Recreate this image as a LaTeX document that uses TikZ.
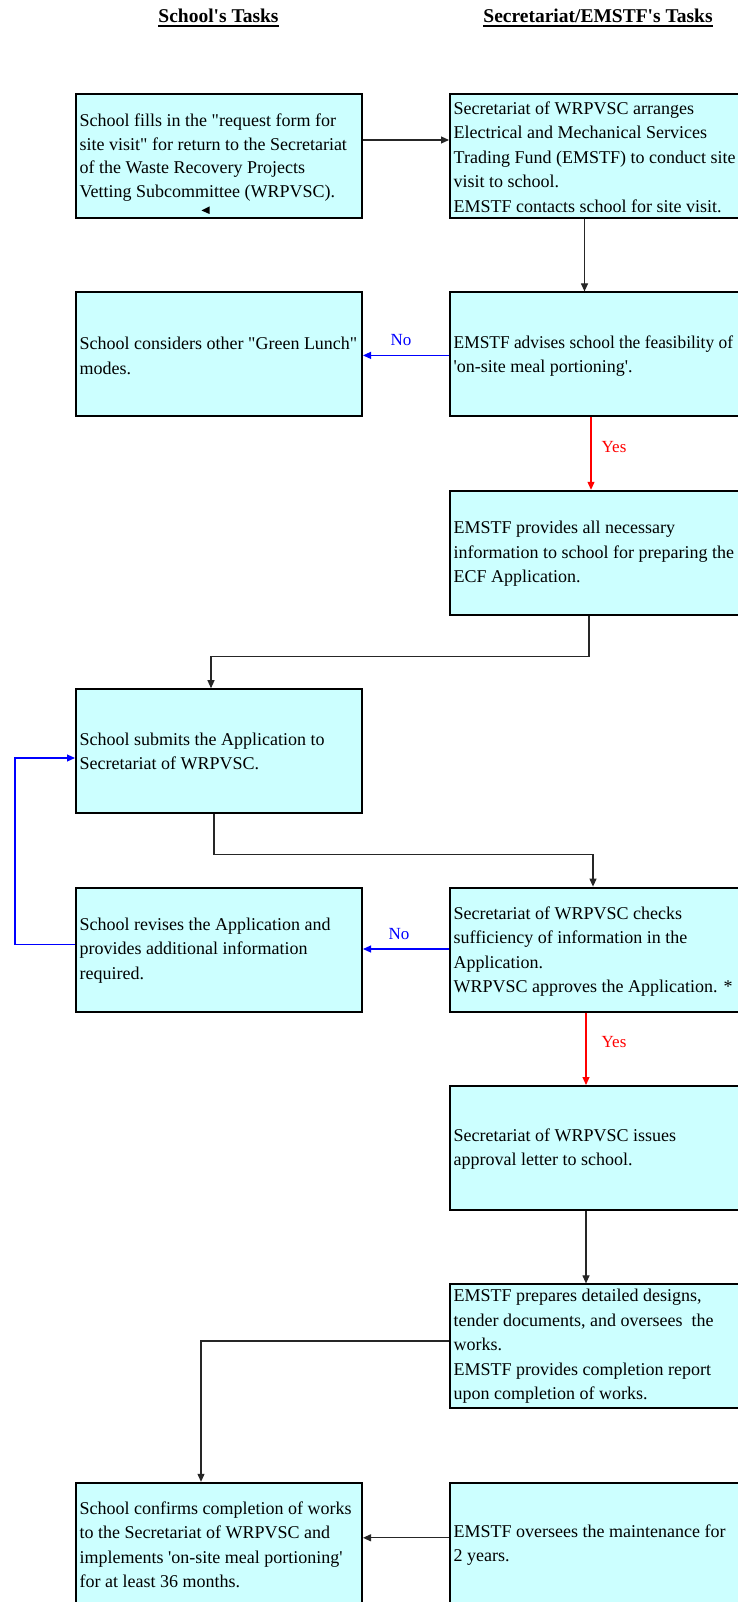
\documentclass[tikz,border=0pt]{standalone}
\usepackage{fontspec}
\usepackage{graphicx}
\setmainfont{Liberation Serif}
\usetikzlibrary{arrows.meta,calc}
\newcommand{\sq}{\textquotesingle}
\newcommand{\dq}{\XeTeXglyph\XeTeXcharglyph"22\relax}
\definecolor{boxfill}{HTML}{CCFFFF}
\definecolor{noblue}{HTML}{0000FF}
\definecolor{yesred}{HTML}{FF0000}
\tikzset{
  lbox/.style={draw=black, line width=2pt, fill=boxfill, minimum width=286pt, minimum height=124pt, inner sep=0pt, anchor=north west},
  rbox/.style={lbox, minimum width=296pt},
  txt/.style={anchor=west, align=left, inner sep=0pt, font={\fontsize{18}{24.4}\selectfont}},
  hdr/.style={anchor=base, inner sep=0pt, font={\fontsize{19.5}{22}\selectfont\bfseries}},
  conn/.style={draw=black!85, line width=1.1pt, -{Triangle[length=8pt,width=7pt]}},
  noarr/.style={draw=noblue, line width=1.1pt, -{Triangle[length=8pt,width=7pt]}},
  yesarr/.style={draw=yesred, line width=1.1pt, -{Triangle[length=8pt,width=7pt]}},
  nolab/.style={text=noblue, inner sep=0pt, font={\fontsize{17}{20}\selectfont}},
  yeslab/.style={text=yesred, inner sep=0pt, font={\fontsize{17}{20}\selectfont}},
}
\begin{document}
\begin{tikzpicture}[x=1pt,y=-1pt]
\useasboundingbox (0,0) rectangle (738,1602);
\clip (0,0) rectangle (738,1602);
\fill[white] (0,0) rectangle (738,1602);

% headers
\node[hdr] (hL) at (218.5,22.7) {School\sq s Tasks};
\node[hdr] (hR) at (598,22.7) {Secretariat/EMSTF\sq s Tasks};
\draw[line width=2pt] ($(hL.base west)+(0,3.3)$) -- ($(hL.base east)+(0,3.3)$);
\draw[line width=2pt] ($(hR.base west)+(0,3.3)$) -- ($(hR.base east)+(0,3.3)$);

% boxes
\node[lbox] (L1) at (75,93) {};
\node[rbox] (R1) at (449,93) {};
\node[lbox] (L2) at (75,291.4) {};
\node[rbox] (R2) at (449,291.4) {};
\node[rbox] (R3) at (449,489.8) {};
\node[lbox] (L4) at (75,688.2) {};
\node[lbox] (L5) at (75,886.6) {};
\node[rbox] (R5) at (449,886.6) {};
\node[rbox] (R6) at (449,1085) {};
\node[rbox] (R7) at (449,1283.4) {};
\node[lbox] (L8) at (75,1481.8) {};
\node[rbox] (R8) at (449,1481.8) {};

% texts
\node[txt, font={\fontsize{18}{23.6}\selectfont}] (tL1) at ([xshift=4.5pt,yshift=-1.7pt]L1.west) {School fills in the \dq request form for\\site visit\dq{} for return to the Secretariat\\of the Waste Recovery Projects\\Vetting Subcommittee (WRPVSC).};
\node[txt] (tR1) at ([xshift=4.5pt,yshift=-1pt]R1.west) {Secretariat of WRPVSC arranges\\Electrical and Mechanical Services\\Trading Fund (EMSTF) to conduct site\\visit to school.\\EMSTF contacts school for site visit.};
\node[txt] (tL2) at ([xshift=4.5pt,yshift=-1.5pt]L2.west) {School considers other \dq Green Lunch\dq\\modes.};
\node[txt] (tR2) at ([xshift=4.5pt,yshift=-1.5pt]R2.west) {\scalebox{0.965}[1]{EMSTF advises school the feasibility of}\\\sq on-site meal portioning\sq .};
\node[txt] (tR3) at ([xshift=4.5pt,yshift=-1pt]R3.west) {EMSTF provides all necessary\\information to school for preparing the\\ECF Application.};
\node[txt] (tL4) at ([xshift=4.5pt]L4.west) {School submits the Application to\\Secretariat of WRPVSC.};
\node[txt] (tL5) at ([xshift=4.5pt,yshift=-1pt]L5.west) {School revises the Application and\\provides additional information\\required.};
\node[txt] (tR5) at ([xshift=4.5pt,yshift=-2pt]R5.west) {Secretariat of WRPVSC checks\\sufficiency of information in the\\Application.\\WRPVSC approves the Application. *};
\node[txt] (tR6) at ([xshift=4.5pt,yshift=-1pt]R6.west) {Secretariat of WRPVSC issues\\approval letter to school.};
\node[txt] (tR7) at ([xshift=4.5pt]R7.west) {EMSTF prepares detailed designs,\\tender documents, and oversees\ \ the\\works.\\EMSTF provides completion report\\upon completion of works.};
\node[txt] (tL8) at ([xshift=4.5pt]L8.west) {School confirms completion of works\\to the Secretariat of WRPVSC and\\implements \sq on-site meal portioning\sq\\for at least 36 months.};
\node[txt] (tR8) at ([xshift=4.5pt]R8.west) {EMSTF oversees the maintenance for\\2 years.};

% stray arrowhead in first box
\fill[black] (201.5,210.5) -- (209.5,206.5) -- (209.5,214) -- cycle;

% connectors
\draw[conn] ($(L1.north east)+(0,47)$) -- ($(R1.north west)+(0,47)$);
\draw[conn] ($(R1.south west)+(135.5,0)$) -- ($(R2.north west)+(135.5,0)$);
\draw[noarr] ($(R2.north west)+(0,64)$) -- ($(L2.north east)+(0,64)$);
\node[nolab] (no1) at (401,340) {No};
\draw[yesarr] ($(R2.south west)+(142,0)$) -- ($(R3.north west)+(142,0)$);
\node[yeslab] (yes1) at (614,447.5) {Yes};
\draw[conn] ($(R3.south west)+(140,0)$) -- ++(0,41) -| ($(L4.north west)+(136,0)$);
\draw[conn] ($(L4.south west)+(139,0)$) -- ++(0,40) -| ($(R5.north west)+(144,0)$);
\draw[noarr] ($(R5.north west)+(0,62.4)$) -- ($(L5.north east)+(0,62.4)$);
\node[nolab] (no2) at (399,934) {No};
\draw[noarr] ($(L5.north west)+(0,57.5)$) -- ++(-60,0) |- ($(L4.north west)+(0,69.8)$);
\draw[yesarr] ($(R5.south west)+(137,0)$) -- ($(R6.north west)+(137,0)$);
\node[yeslab] (yes2) at (614,1042.5) {Yes};
\draw[conn] ($(R6.south west)+(137,0)$) -- ($(R7.north west)+(137,0)$);
\draw[conn] ($(R7.north west)+(0,57.6)$) -| ($(L8.north west)+(126,0)$);
\draw[conn] ($(R8.north west)+(0,56)$) -- ($(L8.north east)+(0,56)$);
\end{tikzpicture}
\end{document}
